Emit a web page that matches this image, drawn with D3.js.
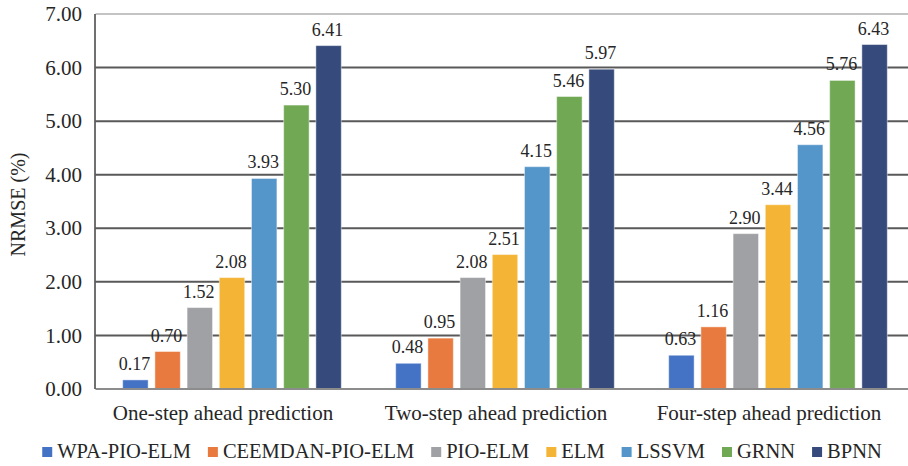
<!DOCTYPE html>
<html>
<head>
<meta charset="utf-8">
<script src="https://cdn.jsdelivr.net/npm/d3@7"></script>
<style>
  html, body { margin: 0; padding: 0; background: #fff; }
  svg { display: block; }
  text { font-family: "Liberation Serif", "Times New Roman", serif; fill: #262626; }
</style>
</head>
<body>
<svg id="chart" width="908" height="466"></svg>
<script>
// ---- data ----
const categories = ["One-step ahead prediction", "Two-step ahead prediction", "Four-step ahead prediction"];
const seriesNames = ["WPA-PIO-ELM", "CEEMDAN-PIO-ELM", "PIO-ELM", "ELM", "LSSVM", "GRNN", "BPNN"];
const seriesColors = ["#4472C4", "#E97A3F", "#A0A1A5", "#F4B536", "#5596CA", "#71A854", "#364A7B"];
const wpaPioElm   = [0.17, 0.48, 0.63];
const ceemdanPioElm = [0.70, 0.95, 1.16];
const pioElm      = [1.52, 2.08, 2.90];
const elm         = [2.08, 2.51, 3.44];
const lssvm       = [3.93, 4.15, 4.56];
const grnn        = [5.30, 5.46, 5.76];
const bpnn        = [6.41, 5.97, 6.43];
const seriesValues = [wpaPioElm, ceemdanPioElm, pioElm, elm, lssvm, grnn, bpnn];
const yTicks = [0, 1, 2, 3, 4, 5, 6, 7];
const yTitle = "NRMSE (%)";

// ---- layout ----
const svg = d3.select("#chart");
const pLeft = 95.5, pRight = 914.5, pTop = 14, pBottom = 389;

const y = d3.scaleLinear().domain([0, 7]).range([pBottom, pTop]);
const x0 = d3.scaleBand().domain(categories).range([pLeft, pRight]).paddingInner(0).paddingOuter(0);
const bw = x0.bandwidth();
const innerSpan = 218.6;
const x1 = d3.scaleBand().domain(seriesNames)
  .range([(bw - innerSpan) / 2, (bw + innerSpan) / 2]).paddingInner(0.21).paddingOuter(0);

// gridlines
svg.append("g").selectAll("line")
  .data(yTicks.filter(d => d > 0 && d < 7))
  .join("line")
  .attr("x1", pLeft).attr("x2", 908)
  .attr("y1", d => y(d)).attr("y2", d => y(d))
  .attr("stroke", "#595959").attr("stroke-width", 2);

// top border
svg.append("line")
  .attr("x1", pLeft).attr("x2", 908).attr("y1", y(7)).attr("y2", y(7))
  .attr("stroke", "#8a8a8a").attr("stroke-width", 1.2);

// y tick labels
svg.append("g").selectAll("text")
  .data(yTicks)
  .join("text")
  .attr("x", 82).attr("y", d => y(d))
  .attr("dy", "0.34em")
  .attr("text-anchor", "end")
  .style("font-size", "21px")
  .text(d => d3.format(".2f")(d));

// y title
svg.append("text")
  .attr("transform", `translate(25, ${(pTop + pBottom) / 2 + 3}) rotate(-90)`)
  .attr("text-anchor", "middle")
  .style("font-size", "20px")
  .text(yTitle);

// bars
const groups = svg.append("g").selectAll("g")
  .data(categories)
  .join("g")
  .attr("transform", d => `translate(${x0(d)},0)`);

groups.each(function(cat, ci) {
  const g = d3.select(this);
  const vals = seriesNames.map((s, si) => ({ s, si, v: seriesValues[si][ci] }));
  g.selectAll("rect").data(vals).join("rect")
    .attr("x", d => x1(d.s))
    .attr("width", x1.bandwidth())
    .attr("y", d => y(d.v))
    .attr("height", d => y(0) - y(d.v))
    .attr("fill", d => seriesColors[d.si])
    .attr("stroke", "#ffffff").attr("stroke-opacity", 0.45).attr("stroke-width", 1);
  g.selectAll("text.val").data(vals).join("text")
    .attr("class", "val")
    .attr("x", d => x1(d.s) + x1.bandwidth() / 2 - 1)
    .attr("y", d => y(d.v) - 10)
    .attr("text-anchor", "middle")
    .style("font-size", "18px")
    .text(d => d3.format(".2f")(d.v));
});

// axes lines
svg.append("line")
  .attr("x1", pLeft).attr("x2", 908).attr("y1", pBottom).attr("y2", pBottom)
  .attr("stroke", "#8c8c8c").attr("stroke-width", 2);
svg.append("line")
  .attr("x1", pLeft - 0.5).attr("x2", pLeft - 0.5).attr("y1", pTop).attr("y2", pBottom)
  .attr("stroke", "#404040").attr("stroke-width", 1.5);

// category labels
svg.append("g").selectAll("text")
  .data(categories)
  .join("text")
  .attr("x", d => x0(d) + bw / 2 - 9)
  .attr("y", 420)
  .attr("text-anchor", "middle")
  .style("font-size", "21px")
  .text(d => d);

// legend
const legend = svg.append("g");
const items = legend.selectAll("g").data(seriesNames).join("g");
items.append("rect")
  .attr("width", 10).attr("height", 10)
  .attr("y", 447)
  .attr("fill", (d, i) => seriesColors[i]);
items.append("text")
  .attr("y", 458)
  .attr("x", 15)
  .style("font-size", "20.5px")
  .text(d => d);
const widths = [];
items.each(function() {
  widths.push(d3.select(this).select("text").node().getComputedTextLength());
});
const total = widths.reduce((a, w) => a + 10 + 5 + w, 0) + 17 * (widths.length - 1);
let xpos = 462 - total / 2;
items.each(function(d, i) {
  d3.select(this).attr("transform", `translate(${xpos},0)`);
  xpos += 15 + widths[i] + 17;
});
</script>
</body>
</html>
